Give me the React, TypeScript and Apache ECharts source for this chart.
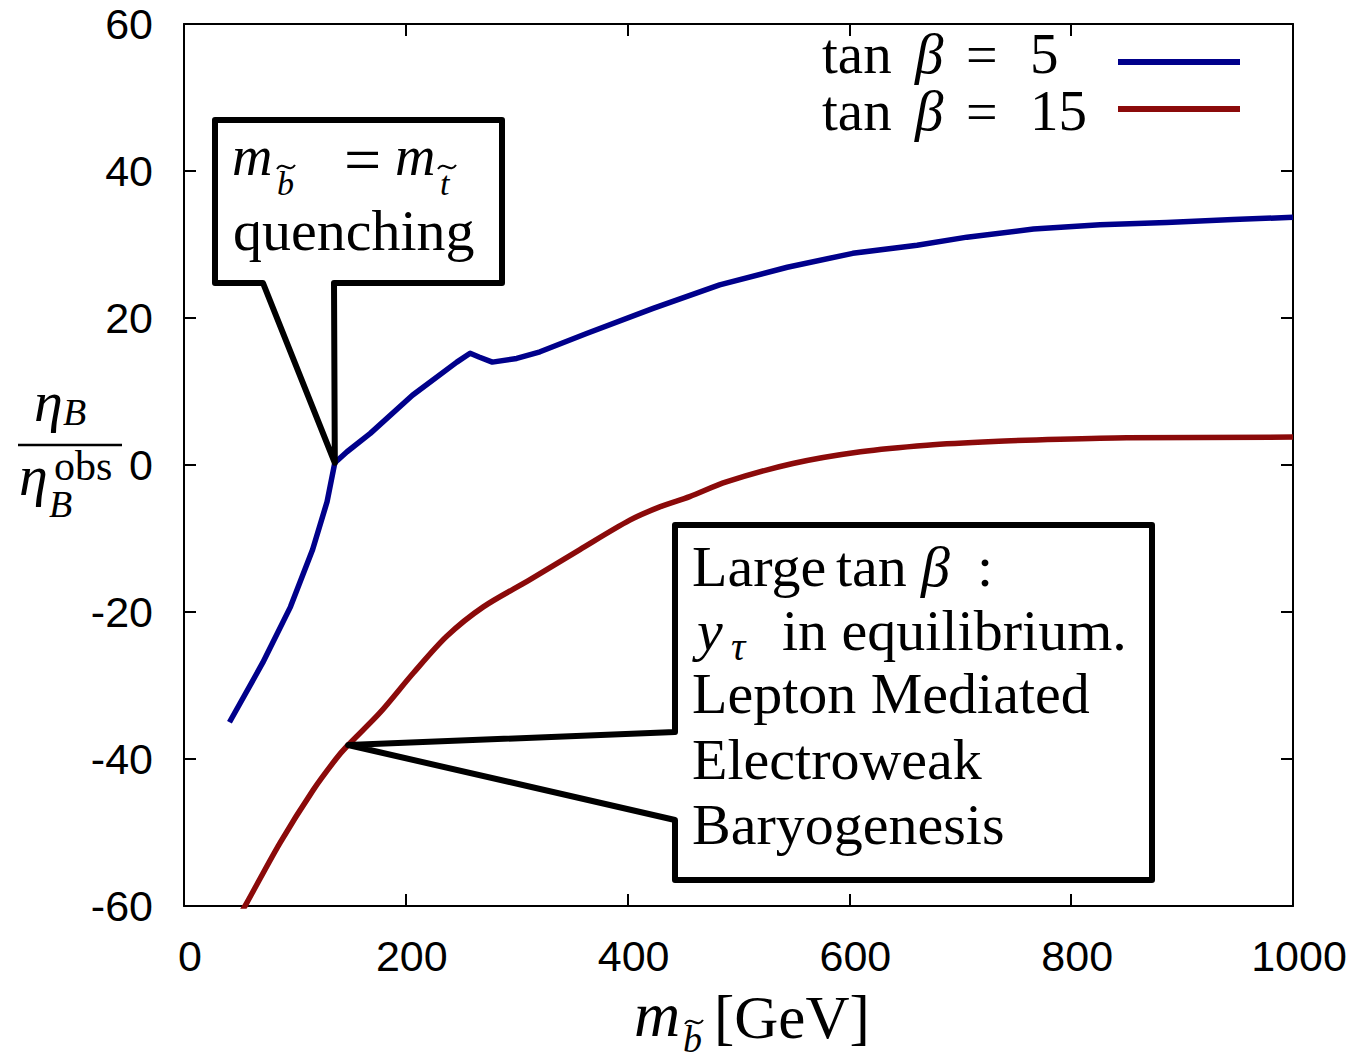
import React, { useEffect, useRef } from "react";
import * as echarts from "echarts";

// ---- data ----
const seriesNames = ["tan β = 5", "tan β = 15"];
const seriesColors = ["#00008b", "#8b0a0a"];

const tan5X = [41, 71, 96, 116, 129, 136, 147, 168, 206, 246, 258, 266, 278, 300, 321, 363, 423, 483, 544, 603, 661, 706, 766, 826, 886, 946, 1000];
const tan5Y = [-35, -26.9, -19.3, -11.5, -5.0, 0.3, 1.8, 4.3, 9.5, 14.0, 15.2, 14.7, 14.0, 14.5, 15.4, 17.9, 21.3, 24.5, 26.9, 28.8, 29.9, 31.0, 32.1, 32.7, 33.0, 33.4, 33.7];

const tan15X = [50, 56.5, 86.6, 116.6, 137, 146.7, 176.7, 206.8, 236.9, 269.9, 312, 357, 402, 429, 456, 489, 549, 610, 670, 730, 790, 850, 1000];
const tan15Y = [-61.3, -59.6, -51.4, -44.2, -40.0, -38.3, -33.7, -28.3, -23.3, -19.3, -15.6, -11.5, -7.5, -5.7, -4.3, -2.3, 0.2, 1.8, 2.7, 3.2, 3.5, 3.7, 3.8];

const xMin = 0, xMax = 1000, xStep = 200;
const yMin = -60, yMax = 60, yStep = 20;

// annotation anchor points on the curves (data units)
const quenchTip = [136, 0.3];
const leptonTip = [148, -38.1];

const SERIF = '"Liberation Serif", "DejaVu Serif", serif';
const SANS = '"Liberation Sans", Arial, sans-serif';

function T(text: string, x: number, base: number, size: number, italic = false, align = "left") {
  return {
    type: "text",
    x,
    y: base - 0.34 * size,
    z: 120,
    style: {
      text,
      fontFamily: SERIF,
      fontSize: size,
      lineHeight: Math.round(size * 0.8),
      fontStyle: italic ? "italic" : "normal",
      fill: "#000",
      align,
      verticalAlign: "middle",
      textAlign: align,
      textVerticalAlign: "middle",
    },
  };
}
// a small tilde accent drawn as a curve, centred at (cx, cy)
function tilde(cx: number, cy: number, w = 9) {
  return {
    type: "bezierCurve",
    z: 120,
    shape: {
      x1: cx - w, y1: cy + 2,
      cpx1: cx - w * 0.35, cpy1: cy - 7,
      cpx2: cx + w * 0.35, cpy2: cy + 7,
      x2: cx + w, y2: cy - 2,
    },
    style: { stroke: "#000", lineWidth: 2, fill: null },
  };
}

export default function App() {
  const ref = useRef<HTMLDivElement>(null);
  useEffect(() => {
    if (!ref.current) return;
    const chart = echarts.init(ref.current, null, { renderer: "svg" });
    const axisLine = { show: true, onZero: false, lineStyle: { color: "#000", width: 2 } };
    const axisTick = { show: true, inside: true, length: 12, lineStyle: { color: "#000", width: 2 } };
    const label = { fontFamily: SANS, fontSize: 43, color: "#000", formatter: (v: number) => String(v) };
    const option: any = {
      animation: false,
      backgroundColor: "#fff",
      grid: { left: 184, right: 72, top: 24, bottom: 156, containLabel: false },
      xAxis: [
        {
          type: "value", min: xMin, max: xMax, interval: xStep, position: "bottom",
          axisLine, axisTick, splitLine: { show: false },
          axisLabel: { ...label, margin: 28, padding: [0, 0, 0, 12] },
        },
        {
          type: "value", min: xMin, max: xMax, interval: xStep, position: "top",
          axisLine, axisTick, splitLine: { show: false }, axisLabel: { show: false },
        },
      ],
      yAxis: [
        {
          type: "value", min: yMin, max: yMax, interval: yStep, position: "left",
          axisLine, axisTick, splitLine: { show: false },
          axisLabel: { ...label, margin: 31 },
        },
        {
          type: "value", min: yMin, max: yMax, interval: yStep, position: "right",
          axisLine, axisTick, splitLine: { show: false }, axisLabel: { show: false },
        },
      ],
      series: [
        {
          name: seriesNames[0], type: "line", xAxisIndex: 0, yAxisIndex: 0,
          data: tan5X.map((x, i) => [x, tan5Y[i]]),
          symbol: "none", showSymbol: false, clip: true, silent: true,
          smooth: false,
          lineStyle: { width: 5.5, color: seriesColors[0], join: "round" }, itemStyle: { color: seriesColors[0] },
        },
        {
          name: seriesNames[1], type: "line", xAxisIndex: 0, yAxisIndex: 0,
          data: tan15X.map((x, i) => [x, tan15Y[i]]),
          symbol: "none", showSymbol: false, clip: true, silent: true,
          smooth: 0.3,
          lineStyle: { width: 5.5, color: seriesColors[1], join: "round" }, itemStyle: { color: seriesColors[1] },
        },
      ],
    };
    chart.setOption(option);

    const px = (p: number[]) => chart.convertToPixel({ xAxisIndex: 0, yAxisIndex: 0 }, p) as number[];
    const t1 = px(quenchTip);
    const t2 = px(leptonTip);
    const boxStyle = { fill: "#fff", stroke: "#000", lineWidth: 6, lineJoin: "round" };

    const elements: any[] = [
      // legend
      T("tan", 822, 73, 57), T("β", 915, 73, 57, true), T("=", 966, 74, 56), T("5", 1030, 73, 57),
      { type: "line", z: 120, shape: { x1: 1118, y1: 62, x2: 1240, y2: 62 }, style: { stroke: seriesColors[0], lineWidth: 6 } },
      T("tan", 822, 130, 57), T("β", 915, 130, 57, true), T("=", 966, 131, 56), T("15", 1030, 130, 57),
      { type: "line", z: 120, shape: { x1: 1118, y1: 109, x2: 1240, y2: 109 }, style: { stroke: seriesColors[1], lineWidth: 6 } },

      // callout 1
      {
        type: "polygon", z: 110,
        shape: { points: [[215, 120], [502, 120], [502, 283], [334, 283], [t1[0], t1[1]], [263, 283], [215, 283]] },
        style: boxStyle,
      },
      T("m", 232, 175, 56, true),
      T("b", 277, 195, 34, true), tilde(286, 167),
      T("=", 344, 182, 66),
      T("m", 395, 175, 56, true),
      T("t", 440, 195, 34, true), tilde(447, 167),
      T("quenching", 233, 250, 58),

      // callout 2
      {
        type: "polygon", z: 110,
        shape: { points: [[675, 525], [1152, 525], [1152, 880], [675, 880], [675, 820], [t2[0], t2[1]], [675, 732]] },
        style: boxStyle,
      },
      T("Large", 692, 586, 58), T("tan", 836, 586, 58), T("β", 921, 586, 58, true), T(":", 977, 586, 58),
      T("y", 697, 650, 58, true), T("τ", 731, 660, 40, true), T("in equilibrium.", 782, 650, 58),
      T("Lepton Mediated", 692, 713, 58),
      T("Electroweak", 692, 779, 58),
      T("Baryogenesis", 692, 844, 58),

      // x axis title
      T("m", 634, 1036, 64, true),
      T("b", 683, 1052, 38, true), tilde(694, 1022),
      T("[GeV]", 714, 1038, 61),

      // y axis title (fraction)
      T("η", 34, 421, 58, true),
      T("B", 63, 425, 38, true),
      { type: "line", z: 120, shape: { x1: 18, y1: 445, x2: 122, y2: 445 }, style: { stroke: "#000", lineWidth: 2.5 } },
      T("η", 19, 495, 58, true),
      T("obs", 54, 480, 42),
      T("B", 49, 517, 38, true),
    ];
    chart.setOption({ graphic: { elements } });

    return () => chart.dispose();
  }, []);
  return <div ref={ref} style={{ position: "absolute", left: 0, top: 0, width: 1365, height: 1062 }} />;
}
